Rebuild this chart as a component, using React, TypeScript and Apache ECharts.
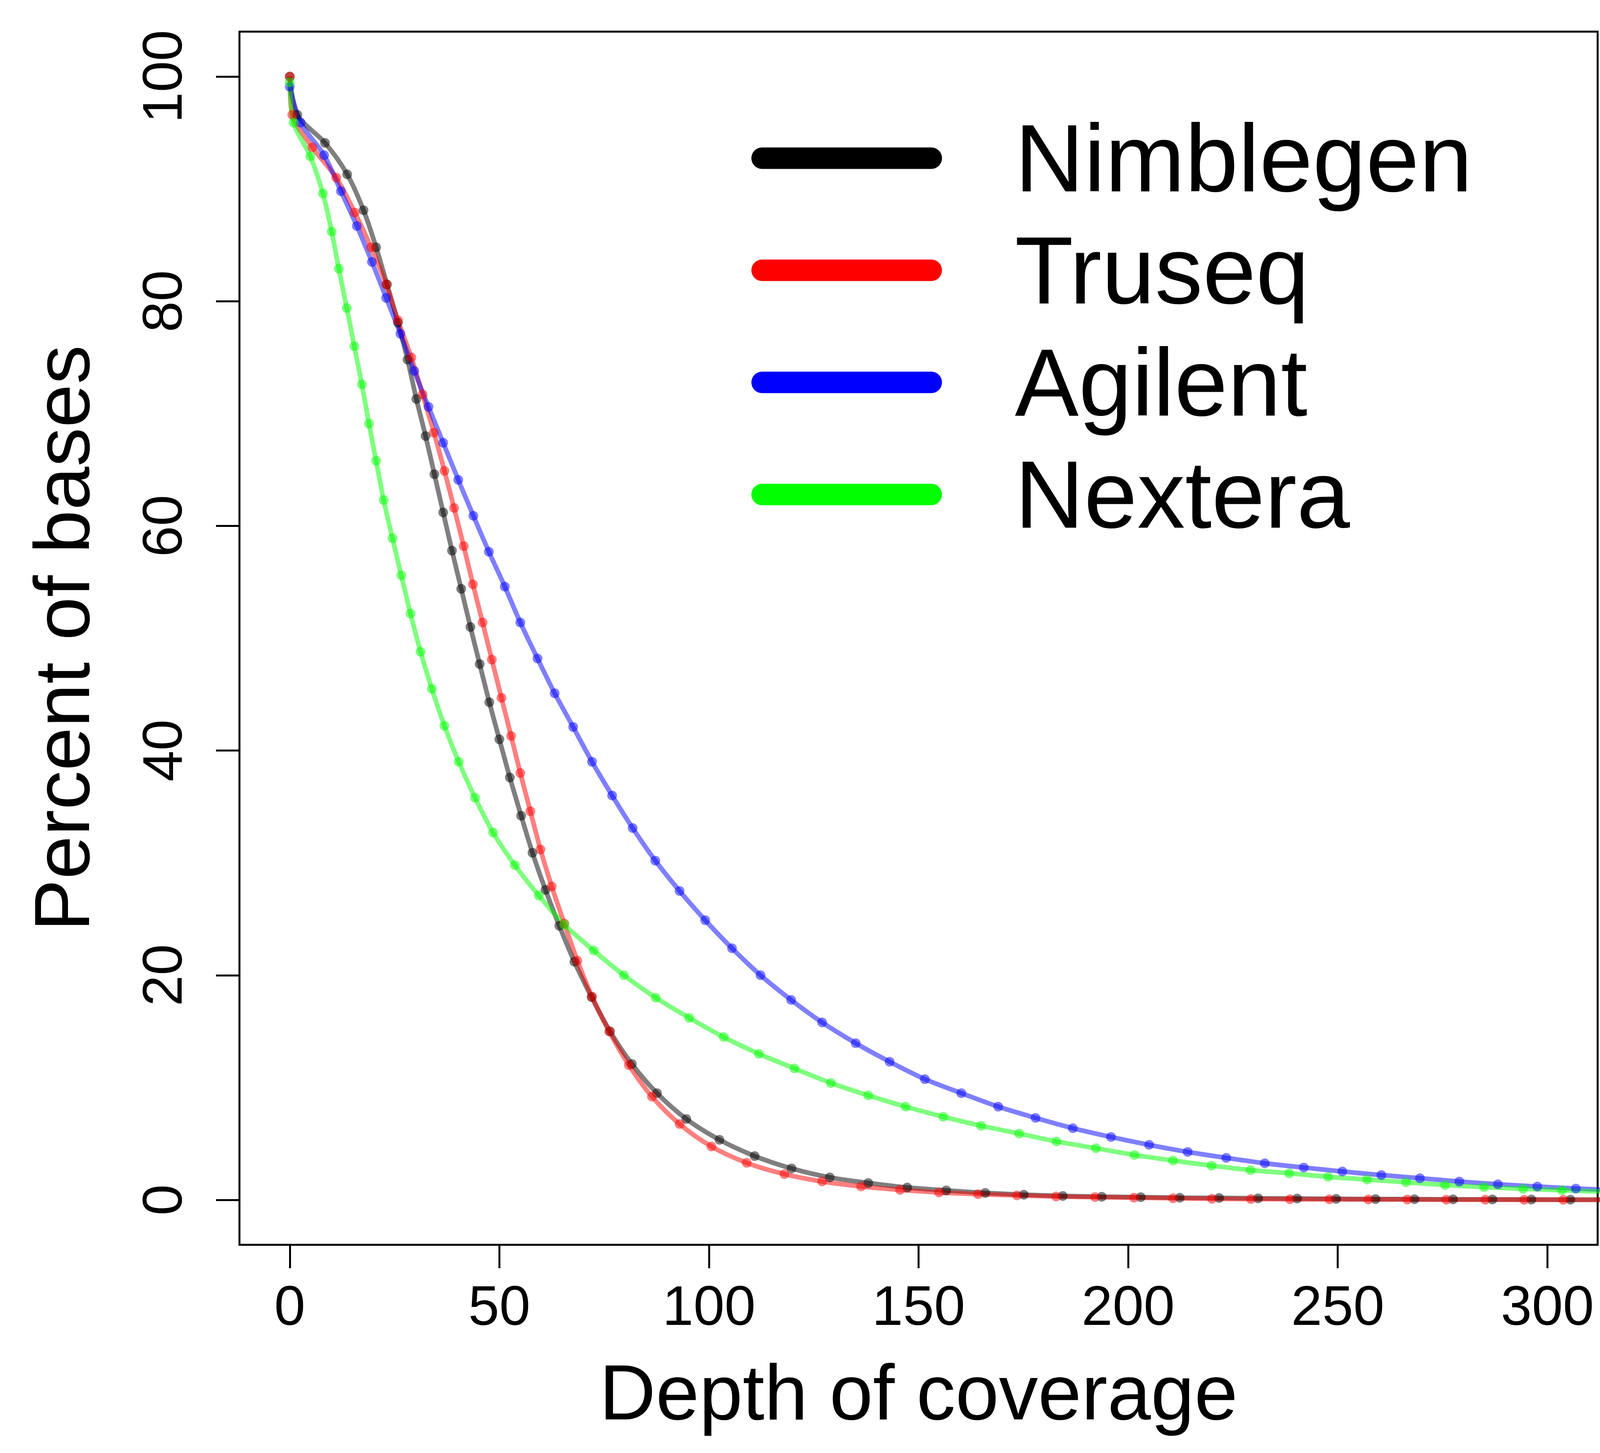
import { useEffect, useRef } from 'react'
import * as echarts from 'echarts'

// depth of coverage vs percent of bases covered
const nimblegen = [
  [0, 100], [1.8, 96.6], [8.4, 94.1], [13.7, 91.3], [17.6, 88.1], [20.6, 84.8], [23.2, 81.5],
  [25.8, 78.1], [28.1, 74.8], [30.2, 71.3], [32.4, 68.0], [34.5, 64.6], [36.6, 61.2], [38.7, 57.8],
  [40.9, 54.4], [43.1, 51.0], [45.3, 47.7], [47.6, 44.3], [50.0, 41.0], [52.5, 37.6], [55.2, 34.2],
  [57.9, 30.9], [61.0, 27.6], [64.3, 24.4], [67.9, 21.2], [72.0, 18.05], [76.4, 15.0], [81.6, 12.1],
  [87.6, 9.5], [94.6, 7.2], [102.5, 5.35], [110.9, 3.9], [119.7, 2.8], [128.8, 2.0], [138.0, 1.5],
  [147.3, 1.1], [156.6, 0.84], [165.9, 0.62], [175.1, 0.46], [184.4, 0.35], [193.7, 0.28],
  [203.0, 0.24], [212.3, 0.19], [221.7, 0.17], [231.0, 0.14], [240.3, 0.12], [249.6, 0.09],
  [259.0, 0.07], [268.3, 0.06], [277.5, 0.05], [286.9, 0.04], [296.2, 0.03], [305.5, 0.02],
  [314.8, 0.02]
]

const truseq = [
  [0, 100], [0.6, 96.6], [5.4, 93.7], [11.1, 91.0], [15.5, 87.9], [19.4, 84.8], [23.0, 81.5],
  [25.8, 78.3], [29.0, 75.0], [31.7, 71.7], [34.4, 68.3], [36.9, 64.9], [39.2, 61.6], [41.5, 58.2],
  [43.7, 54.8], [46.0, 51.4], [48.2, 48.1], [50.5, 44.7], [52.8, 41.3], [55.0, 38.0], [57.4, 34.6],
  [59.8, 31.2], [62.5, 27.9], [65.5, 24.6], [68.6, 21.3], [72.1, 18.1], [76.2, 15.0], [80.9, 12.0],
  [86.4, 9.2], [93.0, 6.75], [100.6, 4.75], [109.0, 3.3], [118.0, 2.3], [127.0, 1.64], [136.3, 1.2],
  [145.6, 0.89], [154.9, 0.66], [164.2, 0.51], [173.5, 0.4], [182.8, 0.3], [192.1, 0.25],
  [201.4, 0.2], [210.7, 0.15], [220.0, 0.1], [229.3, 0.08], [238.6, 0.06], [248.0, 0.05],
  [257.3, 0.04], [266.6, 0.03], [275.9, 0.02], [285.2, 0.02], [294.5, 0.01], [303.8, 0.01],
  [313.1, 0.01]
]

const agilent = [
  [0, 99.1], [2.6, 95.9], [8.2, 93.0], [12.2, 89.8], [16.0, 86.7], [19.6, 83.5], [23.0, 80.3],
  [26.4, 77.1], [29.7, 73.8], [33.1, 70.6], [36.6, 67.4], [40.2, 64.1], [43.8, 60.9], [47.5, 57.7],
  [51.3, 54.6], [55.0, 51.4], [59.1, 48.2], [63.2, 45.1], [67.6, 42.1], [72.1, 39.0], [76.9, 36.0],
  [81.8, 33.1], [87.2, 30.2], [93.0, 27.5], [99.1, 24.9], [105.5, 22.4], [112.3, 20.0],
  [119.6, 17.8], [127.0, 15.8], [135.0, 13.95], [143.1, 12.3], [151.5, 10.75], [160.2, 9.5],
  [169.0, 8.3], [177.9, 7.3], [186.8, 6.38], [195.9, 5.6], [205.0, 4.9], [214.2, 4.27],
  [223.4, 3.74], [232.6, 3.26], [241.9, 2.88], [251.1, 2.53], [260.4, 2.21], [269.6, 1.93],
  [279.0, 1.63], [288.2, 1.39], [297.6, 1.19], [306.8, 1.01], [316.0, 0.86]
]

const nextera = [
  [0, 99.5], [0.9, 95.9], [4.9, 92.9], [7.9, 89.6], [10.0, 86.2], [11.7, 82.9], [13.6, 79.4],
  [15.4, 76.0], [17.2, 72.6], [18.9, 69.1], [20.6, 65.8], [22.4, 62.3], [24.5, 58.9], [26.6, 55.6],
  [28.8, 52.2], [31.2, 48.8], [33.9, 45.5], [36.9, 42.2], [40.3, 39.0], [44.2, 35.8], [48.5, 32.7],
  [53.7, 29.8], [59.4, 27.1], [65.5, 24.5], [72.5, 22.2], [79.7, 20.0], [87.3, 18.0], [95.3, 16.2],
  [103.5, 14.5], [111.9, 13.0], [120.4, 11.7], [129.1, 10.4], [138.0, 9.3], [146.9, 8.3],
  [155.9, 7.4], [164.9, 6.6], [174.0, 5.9], [182.9, 5.2], [192.3, 4.6], [201.5, 4.0], [210.7, 3.5],
  [219.9, 3.05], [229.2, 2.65], [238.4, 2.37], [247.7, 2.05], [257.0, 1.81], [266.3, 1.57],
  [275.6, 1.32], [284.9, 1.14], [294.2, 0.99], [303.5, 0.86], [312.8, 0.74]
]

const seriesNames = ['Nimblegen', 'Truseq', 'Agilent', 'Nextera']
const seriesData = [nimblegen, truseq, agilent, nextera]
const solidColors = ['#000000', '#ff0000', '#0000ff', '#00ff00']
const fadedColors = ['rgba(0,0,0,0.5)', 'rgba(255,0,0,0.5)', 'rgba(0,0,255,0.5)', 'rgba(0,255,0,0.5)']

const xTicks = [0, 50, 100, 150, 200, 250, 300]
const yTicks = [0, 20, 40, 60, 80, 100]

const FONT = 'Liberation Sans, Arial, Helvetica, sans-serif'

export const App = () => {
  const chartRef = useRef(null)

  useEffect(() => {
    document.body.style.margin = '0'
    document.body.style.overflow = 'hidden'
    const chart = echarts.init(chartRef.current, null, { renderer: 'svg' })

    // legend drawn by hand: thick round-capped lines, full colour
    const legendRows = seriesNames.map((name, i) => {
      const y = 405 + i * 287
      return [
        {
          type: 'line',
          shape: { x1: 1951, y1: y, x2: 2384, y2: y },
          style: { stroke: solidColors[i], lineWidth: 55, lineCap: 'round' },
          silent: true
        },
        {
          type: 'text',
          x: 2598,
          y: y,
          style: {
            text: name,
            fontSize: 245,
            fontFamily: FONT,
            fill: '#000',
            align: 'left',
            verticalAlign: 'middle'
          },
          silent: true
        }
      ]
    })

    const option = {
      animation: false,
      backgroundColor: '#fff',
      grid: {
        left: 613,
        top: 81,
        width: 3477,
        height: 3106,
        show: true,
        borderColor: '#000',
        borderWidth: 5,
        backgroundColor: 'transparent'
      },
      xAxis: {
        type: 'value',
        min: -12,
        max: 312,
        name: 'Depth of coverage',
        nameLocation: 'middle',
        nameGap: 277,
        nameTextStyle: { fontSize: 200, fontFamily: FONT, color: '#000' },
        splitLine: { show: false },
        axisLine: { show: false, onZero: false },
        axisTick: {
          show: true,
          length: 60,
          customValues: xTicks,
          lineStyle: { color: '#000', width: 5 }
        },
        axisLabel: {
          customValues: xTicks,
          margin: 84,
          fontSize: 143,
          fontFamily: FONT,
          color: '#000'
        }
      },
      yAxis: {
        type: 'value',
        min: -4,
        max: 104,
        name: 'Percent of bases',
        nameLocation: 'middle',
        nameGap: 355,
        nameTextStyle: { fontSize: 200, fontFamily: FONT, color: '#000' },
        splitLine: { show: false },
        axisLine: { show: false, onZero: false },
        axisTick: {
          show: true,
          length: 60,
          customValues: yTicks,
          lineStyle: { color: '#000', width: 5 }
        },
        axisLabel: {
          customValues: yTicks,
          rotate: 90,
          margin: 126,
          fontSize: 143,
          fontFamily: FONT,
          color: '#000'
        }
      },
      graphic: legendRows.flat(),
      series: seriesData.map((data, i) => ({
        name: seriesNames[i],
        type: 'line',
        data: data,
        smooth: 0.3,
        symbol: 'circle',
        symbolSize: 25,
        showSymbol: true,
        clip: true,
        silent: true,
        lineStyle: { color: fadedColors[i], width: 12 },
        itemStyle: { color: fadedColors[i], borderWidth: 0 },
        emphasis: { disabled: true }
      }))
    }

    chart.setOption(option)

    return () => {
      chart.dispose()
    }
  }, [])

  return <div ref={chartRef} style={{ width: '4217px', height: '3720px' }} />
}

export default App
